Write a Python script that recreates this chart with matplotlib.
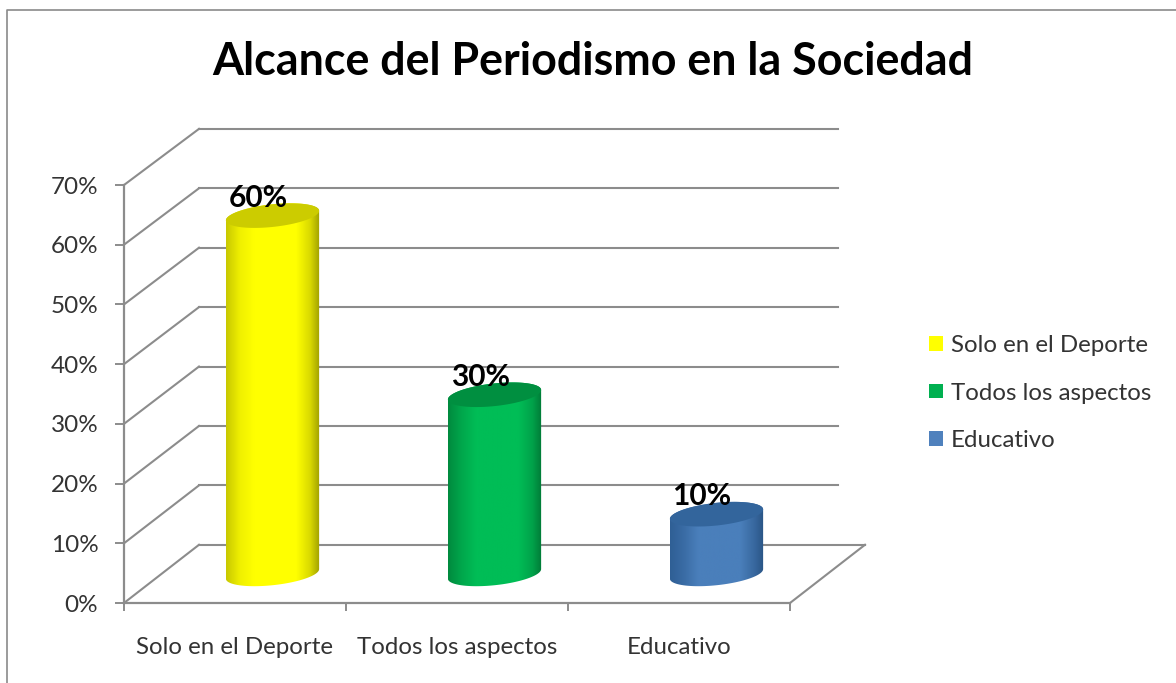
#!/usr/bin/env python3
"""
Alcance del Periodismo en la Sociedad: faux 3D cylinder chart on plain matplotlib axes.
"""

import matplotlib
matplotlib.use('Agg')
import matplotlib.pyplot as plt
import numpy as np
from matplotlib.colors import LinearSegmentedColormap
from matplotlib.lines import Line2D
from matplotlib.patches import Patch, PathPatch, Polygon
from matplotlib.path import Path as MplPath

plt.rcParams['font.family'] = ['Lato', 'DejaVu Sans']

TITLE = "Alcance del Periodismo en la Sociedad"
CATEGORIES = ["Solo en el Deporte", "Todos los aspectos", "Educativo"]
VALUES = [0.60, 0.30, 0.10]
VALUE_LABELS = ["60%", "30%", "10%"]
YTICKS = [0.0, 0.1, 0.2, 0.3, 0.4, 0.5, 0.6, 0.7]
YTICK_LABELS = ["0%", "10%", "20%", "30%", "40%", "50%", "60%", "70%"]
LEGEND_COLORS = ["#FFFF00", "#00B050", "#4F81BD"]
GRADIENT_STOPS = [0.0, 0.15, 0.3, 0.75, 0.9, 1.0]
BODY_GRADIENTS = [
    ["#c8c800", "#f0f000", "#ffff00", "#ffff00", "#d8d800", "#a0a000"],
    ["#008a3e", "#00a84c", "#00bd56", "#00bd56", "#00a24a", "#007a37"],
    ["#2f5f95", "#3a6ca5", "#4a7fbb", "#4a7fbb", "#38689f", "#2a5585"],
]
TOP_COLORS = ["#cccc00", "#008f40", "#33659c"]

GRID = "#8c8c8c"
TEXT = "#333333"

W, H = 1176, 683
# front plane of the chart box, in pixels
LEFT, RIGHT, BOTTOM, TOP = 124, 790, 603, 185

fig = plt.figure(figsize=(W / 100, H / 100), dpi=100, facecolor="white")
ax = fig.add_axes([LEFT / W, 1 - BOTTOM / H, (RIGHT - LEFT) / W, (BOTTOM - TOP) / H])
ax.patch.set_visible(False)

n = len(CATEGORIES)
DEPTH_X = 75 / ((RIGHT - LEFT) / n)
DEPTH_Y = 0.0975
BACK_SCALE = 0.995  # back wall is a touch shorter than the front plane
WALL_END = n + 0.216  # gridlines on the wall stop short of the floor corner

# wall grid and side diagonals
for t in YTICKS:
    y_back = t * BACK_SCALE + DEPTH_Y
    end = n + DEPTH_X if t == 0 else WALL_END
    ax.plot([DEPTH_X, end], [y_back, y_back], color=GRID, lw=1.5, clip_on=False, zorder=1)
    ax.plot([0, DEPTH_X], [t, y_back], color=GRID, lw=1.5, clip_on=False, zorder=1)
ax.plot([n, n + DEPTH_X], [0, DEPTH_Y], color=GRID, lw=1.5, clip_on=False, zorder=1)

# cylinders
RX = 0.21
RY = 0.019
SLOPE = 0.008 / RX
theta = np.linspace(0, 2 * np.pi, 121)
for i, value in enumerate(VALUES):
    cx = i + 0.5 + DEPTH_X / 2
    base = DEPTH_Y / 2
    top = base + value
    ex = RX * np.cos(theta)
    ey = RY * np.sin(theta) + SLOPE * ex

    lower = theta >= np.pi
    body = np.vstack([
        np.column_stack([cx + ex[lower], base + ey[lower]]),
        np.column_stack([cx + ex[~lower], top + ey[~lower]]),
    ])
    clip = PathPatch(MplPath(np.vstack([body, body[:1]])), transform=ax.transData, fc="none", ec="none")
    ax.add_patch(clip)
    cmap = LinearSegmentedColormap.from_list(f"body{i}", list(zip(GRADIENT_STOPS, BODY_GRADIENTS[i])))
    im = ax.imshow(np.linspace(0, 1, 256)[None, :], cmap=cmap, aspect="auto", zorder=3,
                   extent=[cx - RX, cx + RX, base - 0.05, top + 0.05])
    im.set_clip_path(clip)
    im.set_clip_on(True)
    ax.add_patch(Polygon(np.column_stack([cx + ex, top + ey]), closed=True,
                         fc=TOP_COLORS[i], ec="none", zorder=4))
    ax.text(cx - 0.065, top + 0.03, VALUE_LABELS[i], ha="center", va="center",
            fontsize=21.5, fontweight="bold", color="black", zorder=5)

ax.set_xlim(0, n)
ax.set_ylim(0, 0.7)

for side in ("top", "right"):
    ax.spines[side].set_visible(False)
for side in ("left", "bottom"):
    ax.spines[side].set_color(GRID)
    ax.spines[side].set_linewidth(1.6)

ax.set_yticks(YTICKS)
ax.set_yticklabels(YTICK_LABELS)
ax.tick_params(axis="y", length=6.5, width=1.4, color=GRID, pad=12, labelsize=17.5, labelcolor=TEXT)
ax.set_xticks(np.arange(n + 1))
ax.set_xticklabels([])
ax.tick_params(axis="x", which="major", length=6, width=1.4, color=GRID)
ax.set_xticks(np.arange(n) + 0.5, minor=True)
ax.set_xticklabels(CATEGORIES, minor=True)
ax.tick_params(axis="x", which="minor", length=0, pad=24.5, labelsize=17.3, labelcolor=TEXT)

fig.text(593 / W, 1 - 62 / H, TITLE, ha="center", va="center", fontsize=32.3, fontweight="bold", color="black")

handles = [Patch(fc=c, ec="none") for c in LEGEND_COLORS]
fig.legend(handles, CATEGORIES, loc="center left", bbox_to_anchor=(929 / W, 1 - 393 / H),
           frameon=False, fontsize=17.3, labelcolor=TEXT, handlelength=0.58, handleheight=0.58,
           handletextpad=0.33, labelspacing=1.11, borderpad=0, borderaxespad=0)

# chart area border, only the left and top edges are inside the picture
fig.add_artist(Line2D([6.5 / W, 6.5 / W, 1], [0, 1 - 10 / H, 1 - 10 / H], color="#8a8a8a", lw=1.2))

fig.savefig("out.png", dpi=100)
plt.close(fig)
